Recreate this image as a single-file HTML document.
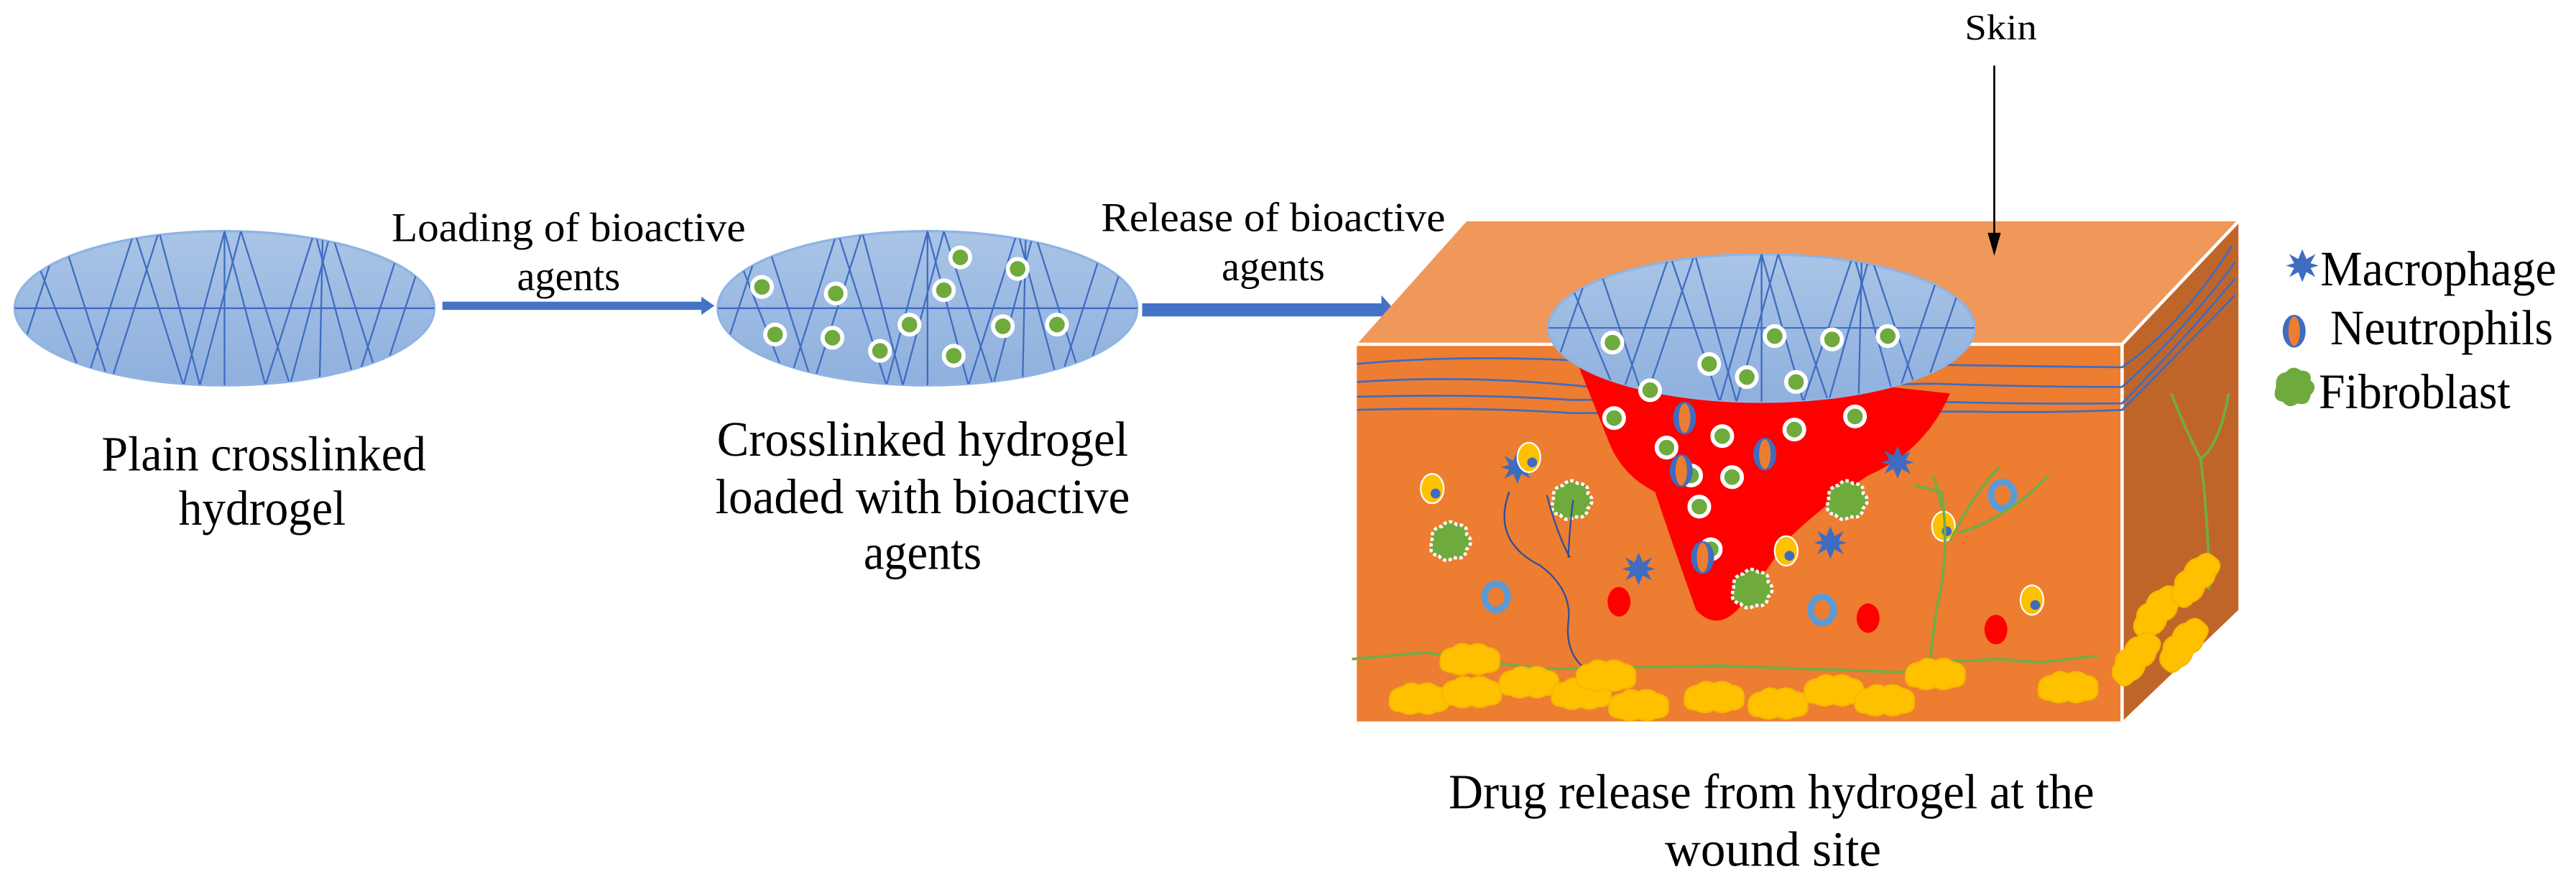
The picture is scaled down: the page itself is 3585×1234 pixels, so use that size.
<!DOCTYPE html>
<html><head><meta charset="utf-8"><style>
html,body{margin:0;padding:0;background:#fff;}
svg{display:block;}
svg text{font-family:"Liberation Serif","Times New Roman",Times,"DejaVu Serif",serif !important;fill:#000;}
</style></head><body>
<svg width="3585" height="1234" viewBox="0 0 1572 541" preserveAspectRatio="none" xmlns="http://www.w3.org/2000/svg" font-family="Liberation Serif, Times New Roman, DejaVu Serif, serif">
<defs>
<linearGradient id="gel" x1="0" y1="0" x2="0" y2="1"><stop offset="0" stop-color="#a9c4e6"/><stop offset="1" stop-color="#8fb0de"/></linearGradient>
<clipPath id="c1"><ellipse cx="137" cy="188" rx="128" ry="47"/></clipPath>
<clipPath id="c2"><ellipse cx="566" cy="188" rx="128" ry="47"/></clipPath>
<clipPath id="c3"><ellipse cx="1075" cy="200" rx="130" ry="45"/></clipPath>
<g id="mesh" stroke="#3f6cc0" stroke-width="1" fill="none">
<line x1="-128" y1="0" x2="128" y2="0"/>
<polyline points="-125,30 -100,-47 -70,47 -40,-47 -15,47 10,-47 40,47 65,-47 95,47 120,-30"/>
<polyline points="-115,-30 -85,47 -55,-47 -25,47 0,-47 25,47 55,-47 80,47 110,-47"/>
<line x1="0" y1="-47" x2="0" y2="47"/>
<line x1="60" y1="-47" x2="58" y2="47"/>
</g>
<g id="dot"><circle r="6" fill="#6eaa3c" stroke="#fff" stroke-width="2.5"/></g>
<g id="neu"><ellipse rx="7" ry="10" fill="#3f6cc0"/><ellipse rx="3.5" ry="9" fill="#ed7d31"/></g>
<g id="mac"><polygon points="0,-10 2.5,-4 8,-7 5,-1.5 10,0 5,1.5 8,7 2.5,4 0,10 -2.5,4 -8,7 -5,1.5 -10,0 -5,-1.5 -8,-7 -2.5,-4" fill="#3f6cc0"/><circle r="4" fill="#3f6cc0"/></g>
<g id="fib"><path d="M-11,-2 q-1,-8 6,-9 q4,-5 9,-1 q7,0 6,6 q5,4 0,9 q-1,7 -8,5 q-5,4 -9,-1 q-7,-1 -4,-9z" fill="#6eaa3c" stroke="#fff" stroke-width="2" stroke-dasharray="2 1.5"/></g>
<g id="fibl"><path d="M-11,-2 q-1,-8 6,-9 q4,-5 9,-1 q7,0 6,6 q5,4 0,9 q-1,7 -8,5 q-5,4 -9,-1 q-7,-1 -4,-9z" fill="#6eaa3c"/></g>
<g id="yc"><ellipse rx="7" ry="9" fill="#ffc000" stroke="#fff" stroke-width="1"/><circle cx="2" cy="3" r="3" fill="#3f6cc0"/></g>
<g id="ring"><ellipse rx="7" ry="8" fill="none" stroke="#5b9bd5" stroke-width="4"/></g>
<g id="fat"><path d="M-18,0 q0,-7 8,-8 q4,-4 10,-1 q6,-3 11,1 q8,1 7,8 q1,7 -8,7 q-5,3 -10,0 q-6,3 -11,0 q-8,0 -7,-7z" fill="#ffc000" stroke="#f5b800" stroke-width="1"/></g>
</defs>

<ellipse cx="137" cy="188" rx="128" ry="47" fill="url(#gel)" stroke="#8fb4e3" stroke-width="1.5"/>
<g clip-path="url(#c1)"><use href="#mesh" transform="translate(137,188)"/></g>
<text x="161" y="287" font-size="30" text-anchor="middle" textLength="198" lengthAdjust="spacingAndGlyphs">Plain crosslinked</text>
<text x="160" y="320" font-size="30" text-anchor="middle" textLength="102" lengthAdjust="spacingAndGlyphs">hydrogel</text>

<rect x="270" y="184" width="158" height="5" fill="#4472c4"/>
<polygon points="428,181 436,186.5 428,192" fill="#4472c4"/>
<text x="347" y="147" font-size="25" text-anchor="middle" textLength="216" lengthAdjust="spacingAndGlyphs">Loading  of bioactive</text>
<text x="347" y="177" font-size="25" text-anchor="middle" textLength="63" lengthAdjust="spacingAndGlyphs">agents</text>

<ellipse cx="566" cy="188" rx="128" ry="47" fill="url(#gel)" stroke="#8fb4e3" stroke-width="1.5"/>
<g clip-path="url(#c2)"><use href="#mesh" transform="translate(566,188)"/></g>
<use href="#dot" x="586" y="157"/><use href="#dot" x="621" y="164"/><use href="#dot" x="465" y="175"/>
<use href="#dot" x="510" y="179"/><use href="#dot" x="576" y="177"/><use href="#dot" x="473" y="204"/>
<use href="#dot" x="508" y="206"/><use href="#dot" x="537" y="214"/><use href="#dot" x="555" y="198"/>
<use href="#dot" x="612" y="199"/><use href="#dot" x="645" y="198"/><use href="#dot" x="582" y="217"/>
<text x="563" y="278" font-size="30" text-anchor="middle" textLength="251" lengthAdjust="spacingAndGlyphs">Crosslinked hydrogel</text>
<text x="563" y="313" font-size="30" text-anchor="middle" textLength="253" lengthAdjust="spacingAndGlyphs">loaded with bioactive</text>
<text x="563" y="347" font-size="30" text-anchor="middle" textLength="72" lengthAdjust="spacingAndGlyphs">agents</text>

<rect x="697" y="185" width="146" height="8" fill="#4472c4"/>
<polygon points="843,180 851,189 843,198" fill="#4472c4"/>
<text x="777" y="141" font-size="25" text-anchor="middle" textLength="210" lengthAdjust="spacingAndGlyphs">Release  of bioactive</text>
<text x="777" y="171" font-size="25" text-anchor="middle" textLength="63" lengthAdjust="spacingAndGlyphs">agents</text>

<polygon points="828,210 895,135 1366,135 1295,210" fill="#f0975a"/>
<polygon points="1295,210 1366,135 1366,372 1295,440" fill="#c0652a"/>
<rect x="828" y="210" width="467" height="230" fill="#ed7d31"/>
<polyline points="828,210 1295,210 1366,135" fill="none" stroke="#fff" stroke-width="2"/>
<line x1="1295" y1="210" x2="1295" y2="440" stroke="#fff" stroke-width="2"/>

<g stroke="#3f6cc0" stroke-width="1.2" fill="none">
<path d="M828,222 Q900,215 1000,222 L1100,221 Q1200,223 1295,224 Q1330,200 1362,150"/>
<path d="M828,233 Q900,228 980,237 L1180,234 Q1240,236 1295,236 Q1330,205 1364,160"/>
<path d="M828,242 Q900,240 960,244 L1100,242 Q1200,247 1295,246 Q1330,210 1364,170"/>
<path d="M828,250 Q900,248 960,252 L1200,251 Q1250,252 1295,250 Q1330,215 1364,180"/>
</g>

<path d="M960,215 L1190,240 Q1175,275 1140,290 Q1110,310 1090,330 Q1070,360 1062,370 Q1048,386 1035,372 Q1020,330 1010,300 Q990,290 982,270 Q970,240 960,215z" fill="#ff0000"/>
<ellipse cx="1075" cy="200" rx="130" ry="45" fill="url(#gel)" stroke="#8fb4e3" stroke-width="1.5"/>
<g clip-path="url(#c3)"><use href="#mesh" transform="translate(1075,200) scale(1.02,0.96)"/></g>
<use href="#dot" x="984" y="209"/><use href="#dot" x="1043" y="222"/><use href="#dot" x="1083" y="205"/>
<use href="#dot" x="1118" y="207"/><use href="#dot" x="1152" y="205"/><use href="#dot" x="1066" y="230"/>
<use href="#dot" x="1007" y="238"/><use href="#dot" x="1096" y="233"/>
<use href="#dot" x="985" y="255"/><use href="#dot" x="1095" y="262"/><use href="#dot" x="1132" y="254"/>
<use href="#dot" x="1017" y="273"/><use href="#dot" x="1051" y="266"/><use href="#dot" x="1032" y="290"/>
<use href="#dot" x="1057" y="291"/><use href="#dot" x="1037" y="309"/><use href="#dot" x="1044" y="335"/>
<use href="#neu" x="1028" y="255"/><use href="#neu" x="1077" y="277"/><use href="#neu" x="1026" y="287"/><use href="#neu" x="1039" y="340"/>

<use href="#mac" x="926" y="285"/><use href="#mac" x="1117" y="331"/><use href="#mac" x="1000" y="347"/><use href="#mac" x="1158" y="282"/>
<use href="#yc" x="933" y="279"/><use href="#yc" x="874" y="298"/><use href="#yc" x="1090" y="336"/><use href="#yc" x="1186" y="321"/><use href="#yc" x="1240" y="366"/>
<use href="#fib" x="959" y="307"/><use href="#fib" x="885" y="332"/><use href="#fib" x="1127" y="307"/><use href="#fib" x="1069" y="361"/>
<use href="#ring" x="913" y="364"/><use href="#ring" x="1112" y="372"/><use href="#ring" x="1222" y="302"/>
<ellipse cx="988" cy="367" rx="7" ry="9" fill="#ff0000"/>
<ellipse cx="1140" cy="377" rx="7" ry="9" fill="#ff0000"/>
<ellipse cx="1218" cy="384" rx="7" ry="9" fill="#ff0000"/>

<g stroke="#2f4f9a" stroke-width="1" fill="none">
<path d="M921,300 Q910,330 940,345 Q960,360 957,380 Q955,400 970,410"/>
<path d="M944,302 Q950,325 958,340 M960,305 Q958,320 957,340"/>
</g>
<g stroke="#70ad47" stroke-width="1.6" fill="none">
<path d="M825,402 L870,398 L940,408 L1050,406 L1160,410 L1180,404 L1220,402 L1245,404 L1280,400"/>
<path d="M1168,296 L1185,300 Q1190,340 1182,370 Q1178,400 1177,410"/>
<path d="M1190,330 Q1205,300 1220,285 M1195,325 Q1215,320 1240,300 L1250,290 M1185,310 L1180,290"/>
<path d="M1325,240 Q1335,265 1343,280 Q1348,320 1348,360 M1343,280 Q1355,270 1360,240"/>
</g>

<use href="#fat" x="866" y="427"/><use href="#fat" x="898" y="423"/><use href="#fat" x="897" y="403"/>
<use href="#fat" x="933" y="417"/><use href="#fat" x="965" y="424"/><use href="#fat" x="980" y="413"/>
<use href="#fat" x="1000" y="431"/><use href="#fat" x="1046" y="426"/><use href="#fat" x="1085" y="430"/>
<use href="#fat" x="1119" y="422"/><use href="#fat" x="1150" y="428"/><use href="#fat" x="1181" y="412"/>
<use href="#fat" x="1262" y="420"/>
<g transform="rotate(-50 1320 370)">
<use href="#fat" x="1315" y="370"/><use href="#fat" x="1345" y="375"/><use href="#fat" x="1285" y="378"/><use href="#fat" x="1310" y="395"/>
</g>

<text x="1221" y="24" font-size="22" text-anchor="middle" textLength="44" lengthAdjust="spacingAndGlyphs">Skin</text>
<line x1="1217" y1="40" x2="1217" y2="146" stroke="#000" stroke-width="1.2"/>
<polygon points="1213,142 1221,142 1217,156" fill="#000"/>

<use href="#mac" x="1405" y="162"/>
<text x="1416" y="174" font-size="30" textLength="144" lengthAdjust="spacingAndGlyphs">Macrophage</text>
<use href="#neu" x="1400" y="202"/>
<text x="1422" y="210" font-size="30" textLength="136" lengthAdjust="spacingAndGlyphs">Neutrophils</text>
<use href="#fibl" x="1400" y="238"/>
<text x="1415" y="249" font-size="30" textLength="117" lengthAdjust="spacingAndGlyphs">Fibroblast</text>

<text x="1081" y="493" font-size="30" text-anchor="middle" textLength="394" lengthAdjust="spacingAndGlyphs">Drug release from hydrogel at the</text>
<text x="1082" y="528" font-size="30" text-anchor="middle" textLength="132" lengthAdjust="spacingAndGlyphs">wound  site</text>
</svg>
</body></html>
